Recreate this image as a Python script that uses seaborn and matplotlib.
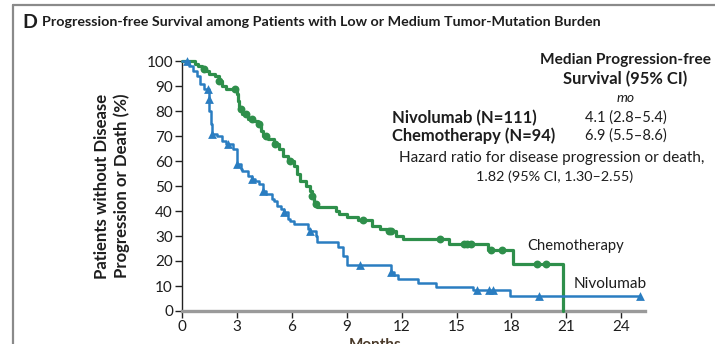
import numpy as np
import pandas as pd
import matplotlib
matplotlib.use("Agg")
import matplotlib.pyplot as plt
from matplotlib.lines import Line2D
import seaborn as sns

# Kaplan-Meier step data: month at which each step occurs and survival (%) after it
niv_time = [0, 0.4, 0.6, 0.8, 1.0, 1.2, 1.45, 1.5, 1.6, 1.65, 1.9, 2.2, 2.4, 2.8, 3.0,
            3.2, 3.3, 3.6, 3.8, 4.0, 4.2, 4.4, 4.6, 4.9, 5.0, 5.2, 5.4, 5.6, 5.8, 5.9,
            6.1, 6.9, 7.0, 7.3, 7.4, 8.5, 8.8, 9.0, 11.4, 11.6, 11.8, 12.9, 13.9, 15.9,
            17.9, 25.0]
niv_surv = [100, 98, 96, 94, 91, 89, 85, 80, 75, 71, 70, 68, 67, 65, 59,
            57, 56, 54, 53, 52, 51, 48, 47, 45, 44, 42, 41, 39.5, 37, 36,
            35, 33, 32, 30, 27.6, 25.6, 22, 18.4, 15.6, 14.5, 13, 11.2, 9.6, 8.4,
            6, 6]
niv_censor = [0.3, 1.4, 1.45, 1.65, 2.5, 3.0, 3.8, 4.4, 5.6, 7.0, 9.7, 11.4,
              16.1, 16.8, 17.0, 19.5, 25.0]

chemo_time = [0, 0.7, 0.9, 1.1, 1.3, 1.5, 1.8, 2.0, 2.2, 2.4, 3.0, 3.05, 3.1, 3.3,
              3.6, 3.9, 4.15, 4.3, 4.4, 4.7, 5.0, 5.3, 5.5, 5.8, 6.1, 6.3, 6.45, 6.8,
              7.0, 7.1, 7.2, 7.4, 8.4, 8.6, 9.0, 9.6, 10.4, 10.8, 11.2, 11.7, 12.1,
              14.6, 16.7, 18.1, 20.8]
chemo_surv = [100, 99, 98, 97, 96, 95, 94, 92, 90, 89, 87, 84, 81, 79,
              77, 76, 75, 72, 70, 69, 67, 65, 62, 60, 58, 55, 52, 50,
              48, 46, 43, 41.6, 40, 39, 37.5, 36.4, 34, 33, 32, 30, 29,
              27, 24.4, 19, 0]
chemo_censor = [1.2, 2.0, 2.9, 3.2, 3.5, 3.8, 4.2, 4.6, 5.1, 5.9, 7.1, 7.3, 9.9,
                11.3, 11.4, 14.1, 15.4, 15.6, 15.8, 16.9, 17.5, 19.4, 19.9]

x_ticks = [0, 3, 6, 9, 12, 15, 18, 21, 24]
y_ticks = [0, 10, 20, 30, 40, 50, 60, 70, 80, 90, 100]

BLUE = "#2a7dc1"
GREEN = "#2e8f4b"
TEXT = "#1d1d1d"

sns.set_theme(style="white")
plt.rcParams["font.family"] = ["Lato", "DejaVu Sans"]
plt.rcParams["axes.unicode_minus"] = False


def surv_at(times, surv, t):
    idx = np.searchsorted(np.asarray(times), t, side="right") - 1
    return np.asarray(surv)[idx]


niv_df = pd.DataFrame({"month": niv_time, "pct": niv_surv})
chemo_df = pd.DataFrame({"month": chemo_time, "pct": chemo_surv})
niv_c = pd.DataFrame({"month": niv_censor,
                      "pct": [surv_at(niv_time, niv_surv, t) for t in niv_censor]})
chemo_c = pd.DataFrame({"month": chemo_censor,
                        "pct": [surv_at(chemo_time, chemo_surv, t) for t in chemo_censor]})

fig = plt.figure(figsize=(7.15, 3.44), dpi=100)
ax = fig.add_axes([182 / 715, 1 - 311 / 344, (645 - 182) / 715, (311 - 61) / 344])

sns.lineplot(data=chemo_df, x="month", y="pct", drawstyle="steps-post", color=GREEN,
             linewidth=2.3, ax=ax, clip_on=False, zorder=3)
sns.lineplot(data=niv_df, x="month", y="pct", drawstyle="steps-post", color=BLUE,
             linewidth=1.8, ax=ax, clip_on=False, zorder=4)
sns.scatterplot(data=chemo_c, x="month", y="pct", marker="o", s=32, color=GREEN,
                edgecolor=GREEN, linewidth=0, ax=ax, clip_on=False, zorder=3)
sns.scatterplot(data=niv_c, x="month", y="pct", marker="^", s=40, color=BLUE,
                edgecolor=BLUE, linewidth=0, ax=ax, clip_on=False, zorder=4)

ax.set_xlim(0, 25.3)
ax.set_ylim(0, 100)
ax.set_xticks(x_ticks)
ax.set_yticks(y_ticks)
ax.set_xticklabels([str(v) for v in x_ticks], fontsize=11, color=TEXT)
ax.set_yticklabels([str(v) for v in y_ticks], fontsize=11, color=TEXT)
ax.set_xlabel("")
ax.set_ylabel("")
ax.tick_params(axis="both", which="both", direction="out", length=5, width=1,
               color="#222222", pad=1.5, left=True, bottom=True)
for side in ("top", "right"):
    ax.spines[side].set_visible(False)
ax.spines["left"].set_color("#222222")
ax.spines["left"].set_linewidth(1.0)
ax.spines["bottom"].set_color("#9a9a9a")
ax.spines["bottom"].set_linewidth(2.4)
ax.patch.set_alpha(0)

texts = []  # (artist, target length in px)

# Curve labels
t = ax.text(21.5, 26, "Chemotherapy", fontsize=10.5, color=TEXT, ha="center", va="center")
texts.append((t, 97))
t = ax.text(23.4, 10.8, "Nivolumab", fontsize=10.5, color=TEXT, ha="center", va="center")
texts.append((t, 74))

# Panel frame
fig.add_artist(Line2D([13 / 715, 1], [1 - 5 / 344, 1 - 5 / 344], color="#8a8a8a",
                      linewidth=1.6, transform=fig.transFigure))
fig.add_artist(Line2D([13 / 715, 13 / 715], [0, 1 - 5 / 344], color="#8a8a8a",
                      linewidth=1.6, transform=fig.transFigure))

# Title
fig.text(22 / 715, 1 - 22 / 344, "D", fontsize=14, fontweight="bold", color=TEXT,
         ha="left", va="center")
t = fig.text(42 / 715, 1 - 22 / 344,
             "Progression-free Survival among Patients with Low or Medium Tumor-Mutation Burden",
             fontsize=11.5, fontweight="bold", color=TEXT, ha="left", va="center")
texts.append((t, 556))

# Y axis label
t = fig.text(112 / 715, 1 - 186 / 344, "Patients without Disease\nProgression or Death (%)",
             rotation=90, fontsize=11, fontweight="bold", color=TEXT, ha="center",
             va="center", multialignment="center", linespacing=1.2)
texts.append((t, 186))

# X axis label (runs off the bottom edge)
fig.text(375 / 715, 1 - 352 / 344, "Months", fontsize=11, fontweight="bold",
         color="#4a3a2a", ha="center", va="bottom")

# Median survival summary
for y, s, w in [(60, "Median Progression-free", 170), (79, "Survival (95% CI)", 124)]:
    t = fig.text(625 / 715, 1 - y / 344, s, fontsize=11, fontweight="bold", color=TEXT,
                 ha="center", va="center")
    texts.append((t, w))
fig.text(626 / 715, 1 - 98 / 344, "mo", fontsize=10, style="italic", color=TEXT,
         ha="center", va="center")
t = fig.text(392 / 715, 1 - 118 / 344, "Nivolumab (N=111)", fontsize=11, fontweight="bold",
             color=TEXT, ha="left", va="center")
texts.append((t, 145))
t = fig.text(392 / 715, 1 - 136 / 344, "Chemotherapy (N=94)", fontsize=11, fontweight="bold",
             color=TEXT, ha="left", va="center")
texts.append((t, 163))
t = fig.text(626 / 715, 1 - 118 / 344, "4.1 (2.8\u20135.4)", fontsize=10.5, color=TEXT,
             ha="center", va="center")
texts.append((t, 82))
t = fig.text(626 / 715, 1 - 136 / 344, "6.9 (5.5\u20138.6)", fontsize=10.5, color=TEXT,
             ha="center", va="center")
texts.append((t, 82))
t = fig.text(552 / 715, 1 - 158 / 344, "Hazard ratio for disease progression or death,",
             fontsize=10.5, color=TEXT, ha="center", va="center")
texts.append((t, 308))
t = fig.text(555 / 715, 1 - 177 / 344, "1.82 (95% CI, 1.30\u20132.55)", fontsize=10.5,
             color=TEXT, ha="center", va="center")
texts.append((t, 158))

# Scale each text so its rendered length fits its slot
fig.canvas.draw()
renderer = fig.canvas.get_renderer()
for art, target in texts:
    bb = art.get_window_extent(renderer)
    length = bb.height if art.get_rotation() == 90 else bb.width
    art.set_fontsize(art.get_fontsize() * target / length)

fig.savefig("out.png", dpi=100, facecolor="white")
